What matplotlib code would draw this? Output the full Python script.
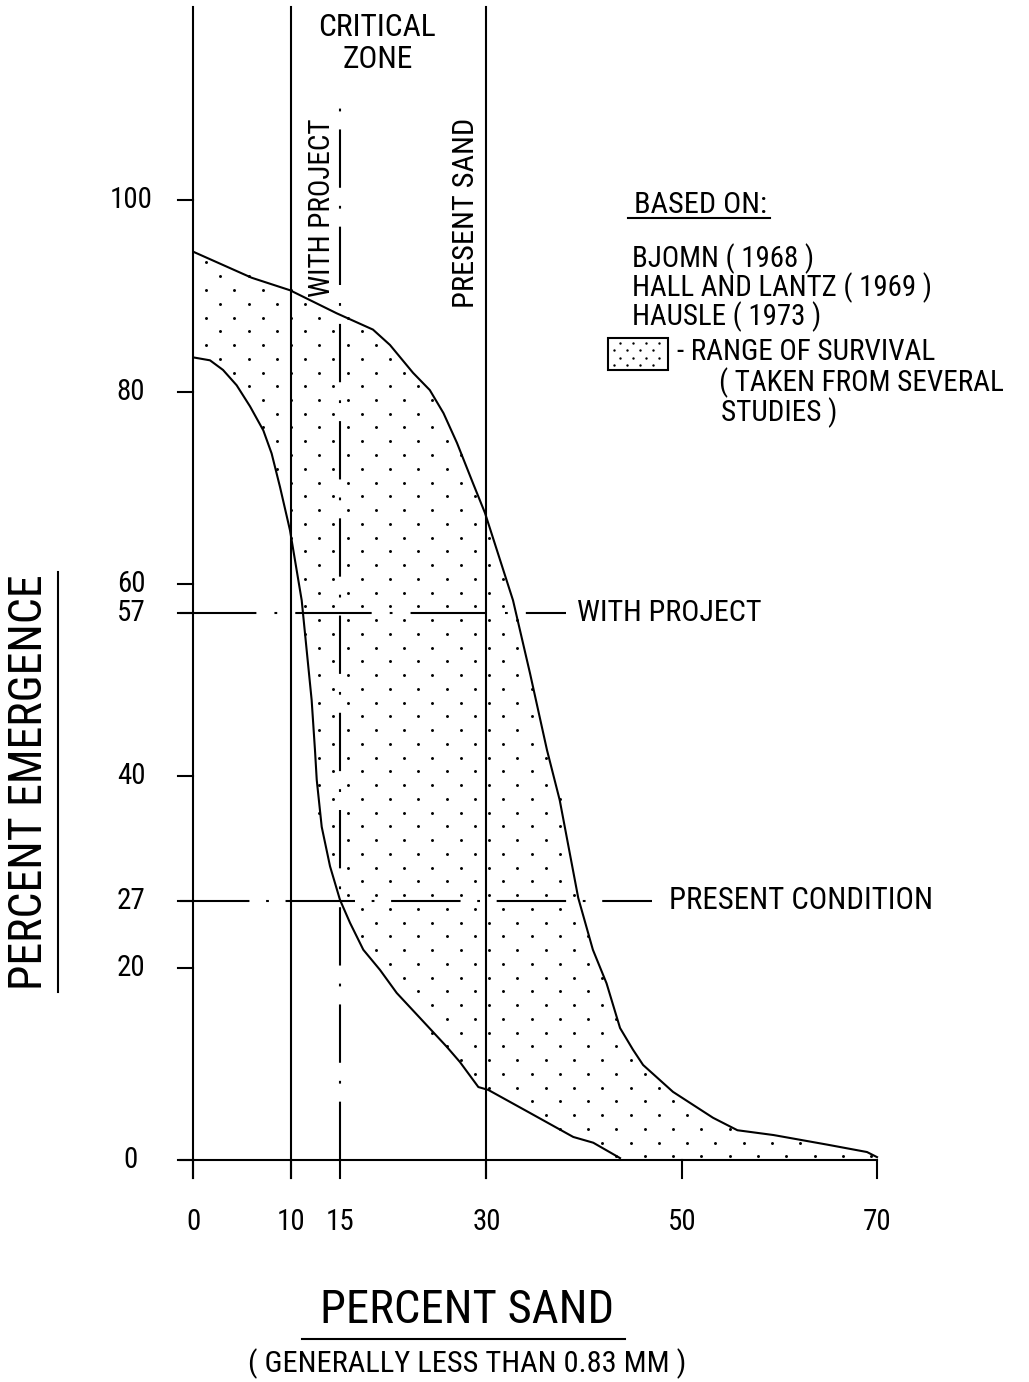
import numpy as np
import matplotlib
matplotlib.use("Agg")
import matplotlib.pyplot as plt
from matplotlib.path import Path
from matplotlib.patches import Rectangle

# ---------------- data ----------------
upper_x = [0.0, 5.96, 9.88, 14.66, 18.38, 20.12, 22.48, 24.2, 25.6, 26.98, 28.62, 29.85,
           32.72, 34.46, 36.2, 37.5, 39.4, 40.9, 42.3, 43.68, 45.0, 46.04, 49.1, 53.2,
           55.7, 59.4, 64.9, 68.97, 70.0]
upper_y = [94.6, 91.9, 90.6, 88.2, 86.5, 84.9, 82.0, 80.2, 77.8, 74.7, 70.5, 67.4,
           58.3, 50.7, 42.7, 37.5, 27.3, 21.9, 18.4, 13.75, 11.5, 9.9, 7.1, 4.4,
           3.1, 2.6, 1.6, 0.83, 0.3]

lower_x = [0.0, 1.69, 3.02, 4.42, 5.79, 7.15, 8.0, 8.86, 9.88, 11.08, 11.59, 12.1,
           12.44, 12.62, 13.13, 13.98, 15.0, 16.03, 17.39, 19.1, 20.81, 23.19,
           25.93, 27.29, 29.17, 30.19, 34.46, 38.89, 40.94, 43.68]
lower_y = [83.6, 83.3, 82.3, 80.7, 78.5, 76.0, 73.6, 70.1, 65.6, 58.3, 53.1, 47.9,
           42.7, 39.6, 34.7, 30.6, 27.1, 24.7, 21.9, 19.8, 17.4, 14.8,
           11.8, 10.2, 7.6, 7.3, 4.9, 2.4, 1.8, 0.2]

x_ticks = [0, 10, 15, 30, 50, 70]
x_tick_labels = ["0", "10", "15", "30", "50", "70"]
y_ticks = [0, 20, 27, 40, 57, 60, 80, 100]
y_tick_labels = ["0", "20", "27", "40", "57", "60", "80", "100"]

solid_verticals = [0, 10, 30]        # percent sand
with_project_sand = 15
with_project_emergence = 57
present_emergence = 27

legend_lines = ["BJOMN ( 1968 )", "HALL AND LANTZ ( 1969 )", "HAUSLE ( 1973 )"]
range_lines = ["- RANGE OF SURVIVAL", "( TAKEN FROM SEVERAL", "STUDIES )"]

# ---------------- layout helpers ----------------
W, H = 1029, 1382
X0, SX = 193.5, 9.765   # pixel of x=0, pixels per unit
Y0, SY = 1160.0, 9.6    # pixel of y=0, pixels per unit


def dx(px):
    return (px - X0) / SX


def dy(py):
    return (Y0 - py) / SY


plt.rcParams['lines.scale_dashes'] = False
plt.rcParams['font.family'] = ['Roboto Condensed', 'DejaVu Sans']
plt.rcParams['font.stretch'] = 'condensed'

fig = plt.figure(figsize=(W / 100, H / 100), dpi=100)
fig.patch.set_facecolor('white')
ax = fig.add_axes([0, 0, 1, 1])
ax.set_xlim(dx(0), dx(W))
ax.set_ylim(dy(H), dy(0))
ax.axis('off')
renderer = fig.canvas.get_renderer()

LW = 1.5
K = 'black'


def size_for(s, target_px, base=20):
    t = ax.text(0, 0, s, fontsize=base)
    bb = t.get_window_extent(renderer)
    t.remove()
    return base * target_px / bb.width


# ---------------- stippled range ----------------
poly_x = list(upper_x) + [70.0, 43.68] + list(lower_x[::-1])
poly_y = list(upper_y) + [0.0, 0.0] + list(lower_y[::-1])
region = Path(np.column_stack([poly_x, poly_y]))

px_per = 28.3 / SX
py_per = 13.75 / SY
pts = []
for j in range(-80, 80):
    yy = 56.25 + j * py_per
    if yy < -0.5 or yy > 100:
        continue
    off = 0.0 if j % 2 == 0 else px_per / 2
    for xx in 12.88 + off + np.arange(-10, 30) * px_per:
        pts.append((xx, yy))
pts = np.array(pts)
inside = region.contains_points(pts, radius=-0.2)
ax.scatter(pts[inside, 0], pts[inside, 1], s=4.5, color=K, linewidths=0, zorder=2)

ax.plot(upper_x, upper_y, color=K, lw=LW, zorder=3)
ax.plot(lower_x, lower_y, color=K, lw=LW, zorder=3)

# ---------------- axes / reference lines ----------------
ytop = dy(7)
ybot = dy(1178)
for v in solid_verticals:
    ax.plot([v, v], [ybot, ytop], color=K, lw=LW, zorder=3)
ax.plot([dx(180), 70.0], [0, 0], color=K, lw=LW, zorder=3)
for t in x_ticks:
    ax.plot([t, t], [ybot, 0], color=K, lw=LW, zorder=3)
for t in y_ticks:
    ax.plot([dx(178), 0], [t, t], color=K, lw=LW, zorder=3)

ax.plot([with_project_sand, with_project_sand], [0, dy(103)], color=K, lw=LW,
        linestyle=(0, (42, 13, 2, 13)), zorder=3)
ax.plot([dx(180), dx(566)], [with_project_emergence] * 2, color=K, lw=LW,
        linestyle=(0, (55, 13, 2, 13)), zorder=3)
ax.plot([dx(180), dx(652)], [present_emergence] * 2, color=K, lw=LW,
        linestyle=(0, (50, 12, 2, 12)), zorder=3)

# ---------------- tick labels ----------------
fs_tick = size_for("100", 43)
for t, lab in zip(x_ticks, x_tick_labels):
    ax.text(t, dy(1222), lab, ha='center', va='center', fontsize=fs_tick)
for t, lab in zip(y_ticks, y_tick_labels):
    ax.text(dx(131), t, lab, ha='center', va='center', fontsize=fs_tick)

# ---------------- axis titles ----------------
ax.text(dx(467), dy(1310), "PERCENT SAND", ha='center', va='center',
        fontsize=size_for("PERCENT SAND", 293))
ax.plot([dx(302), dx(625)], [dy(1339)] * 2, color=K, lw=LW)
ax.text(dx(467), dy(1364), "( GENERALLY LESS THAN 0.83 MM )", ha='center',
        va='center', fontsize=size_for("( GENERALLY LESS THAN 0.83 MM )", 437))

ax.text(dx(29), dy(782), "PERCENT EMERGENCE", ha='center', va='center',
        fontsize=size_for("PERCENT EMERGENCE", 415), rotation=90)
ax.plot([dx(58)] * 2, [dy(572), dy(992)], color=K, lw=LW)

# ---------------- annotations ----------------
fs_crit = size_for("CRITICAL", 118)
ax.text(dx(377), dy(28), "CRITICAL", ha='center', va='center', fontsize=fs_crit)
ax.text(dx(378), dy(60), "ZONE", ha='center', va='center', fontsize=fs_crit)
ax.text(dx(322), dy(208), "WITH PROJECT", ha='center', va='center',
        fontsize=size_for("WITH PROJECT", 179), rotation=90)
ax.text(dx(466), dy(213), "PRESENT SAND", ha='center', va='center',
        fontsize=size_for("PRESENT SAND", 190), rotation=90)
ax.text(dx(577), with_project_emergence, "WITH PROJECT", ha='left', va='center',
        fontsize=size_for("WITH PROJECT", 185))
ax.text(dx(669), present_emergence, "PRESENT CONDITION", ha='left', va='center',
        fontsize=size_for("PRESENT CONDITION", 265))

# ---------------- legend block ----------------
ax.text(dx(634), dy(205), "BASED ON:", ha='left', va='center',
        fontsize=size_for("BASED ON:", 133))
ax.plot([dx(628), dx(770)], [dy(218)] * 2, color=K, lw=LW)
fs_leg = size_for(legend_lines[1], 300)
for i, line in enumerate(legend_lines):
    ax.text(dx(632), dy(259 + 29 * i), line, ha='left', va='center', fontsize=fs_leg)

bx0, bx1, by0, by1 = dx(608), dx(668), dy(370), dy(338)
ax.add_patch(Rectangle((bx0, by0), bx1 - bx0, by1 - by0, fill=False,
                       edgecolor=K, lw=LW, zorder=3))
lx, ly = [], []
for j in range(4):
    yy = by0 + (5 + 7.5 * j) / SY
    off = 0 if j % 2 == 0 else 6.5
    for i in range(5):
        xx = bx0 + (6 + off + 13 * i) / SX
        if xx < bx1 - 3 / SX:
            lx.append(xx)
            ly.append(yy)
ax.scatter(lx, ly, s=3, color=K, linewidths=0, zorder=3)

fs_rng = size_for(range_lines[1], 285)
ax.text(dx(677), dy(352), range_lines[0], ha='left', va='center', fontsize=fs_rng)
ax.text(dx(719), dy(383), range_lines[1], ha='left', va='center', fontsize=fs_rng)
ax.text(dx(721), dy(413), range_lines[2], ha='left', va='center', fontsize=fs_rng)

fig.savefig("out.png", dpi=100, facecolor='white')
